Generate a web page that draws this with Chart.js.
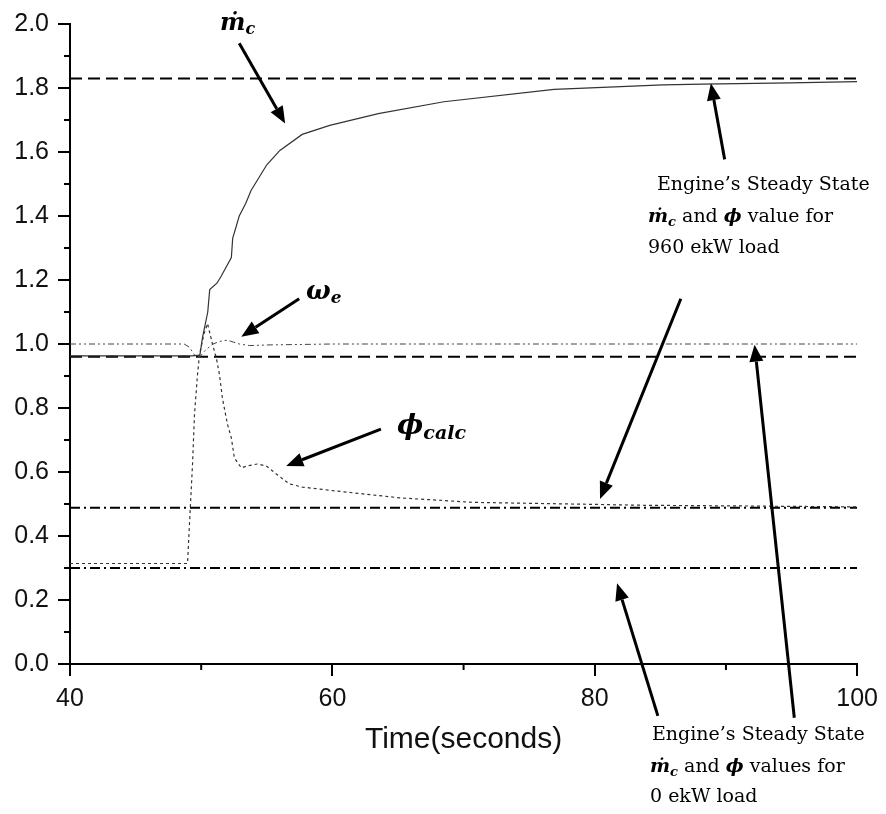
<!DOCTYPE html>
<html>
<head>
<meta charset="utf-8">
<script src="https://cdn.jsdelivr.net/npm/chart.js@4.4.0/dist/chart.umd.min.js"></script>
<style>
  html, body { margin: 0; padding: 0; background: #fff; }
  #wrap { width: 886px; height: 814px; }
</style>
</head>
<body>
<div id="wrap"><canvas id="myChart" width="886" height="814"></canvas></div>
<script>
// Compressor mass flow (m_c) response
const mcTime = [40, 49.3, 49.9, 50.1, 50.5, 50.65, 51.2, 51.5, 52.3, 52.4, 52.9, 53.4, 53.8, 55.0, 56.0, 57.7, 59.8, 63.5, 68.5, 76.9, 85.2, 88.2, 94.9, 100];
const mcValue = [0.963, 0.963, 0.965, 1.02, 1.10, 1.17, 1.19, 1.21, 1.27, 1.33, 1.40, 1.44, 1.48, 1.56, 1.605, 1.655, 1.683, 1.72, 1.757, 1.796, 1.81, 1.812, 1.816, 1.82];

// Engine speed (omega_e)
const omegaTime = [40, 48.7, 49.1, 49.5, 49.9, 50.3, 50.9, 51.4, 52.0, 52.9, 53.7, 55.0, 60, 100];
const omegaValue = [1.0, 1.0, 0.99, 0.965, 0.96, 0.98, 1.0, 1.008, 1.012, 1.0, 0.995, 0.997, 1.0, 1.0];

// Calculated equivalence ratio (phi_calc)
const phiTime = [40, 48.96, 49.11, 49.34, 49.49, 49.72, 49.87, 50.2, 50.48, 50.86, 51.16, 51.39, 51.62, 52.0, 52.3, 52.53, 53.06, 53.52, 54.28, 54.96, 55.72, 56.71, 57.7, 60.2, 65.2, 70.8, 79.6, 83.8, 90.7, 100];
const phiValue = [0.314, 0.314, 0.44, 0.625, 0.78, 0.905, 0.967, 1.03, 1.064, 1.0, 0.955, 0.905, 0.83, 0.75, 0.706, 0.644, 0.613, 0.619, 0.625, 0.619, 0.594, 0.563, 0.553, 0.541, 0.519, 0.505, 0.499, 0.496, 0.494, 0.491];

// Steady state levels (960 ekW and 0 ekW load)
const steadyTime = [40, 100];
const mcSteady960 = [1.83, 1.83];
const mcSteady0 = [0.96, 0.96];
const phiSteady960 = [0.488, 0.488];
const phiSteady0 = [0.30, 0.30];

const toPoints = (xs, ys) => xs.map((x, i) => ({ x: x, y: ys[i] }));

// arrows in data units: [fromX, fromY, toX, toY]
const arrows = [
  [52.9, 1.94, 56.4, 1.689],
  [57.47, 1.1415, 53.06, 1.023],
  [63.7, 0.734, 56.48, 0.619],
  [89.9, 1.577, 88.85, 1.815],
  [86.56, 1.1415, 80.4, 0.516],
  [84.81, -0.162, 81.7, 0.252],
  [95.21, -0.168, 92.18, 0.998],
];

const serif = '"DejaVu Serif"';
const bodyFont = "19px " + serif;
const mathFont = "bold italic 19px " + serif;
const subFont = "bold italic 13px " + serif;

function drawRuns(ctx, x, y, runs) {
  let cx = x;
  runs.forEach(function (r) {
    ctx.font = r.font;
    ctx.fillText(r.text, cx, y + (r.dy || 0));
    cx += ctx.measureText(r.text).width;
  });
}

function drawArrow(ctx, x1, y1, x2, y2) {
  const ang = Math.atan2(y2 - y1, x2 - x1);
  const head = 17, half = 7;
  const bx = x2 - head * Math.cos(ang);
  const by = y2 - head * Math.sin(ang);
  ctx.beginPath();
  ctx.moveTo(x1, y1);
  ctx.lineTo(bx, by);
  ctx.lineWidth = 3;
  ctx.stroke();
  ctx.beginPath();
  ctx.moveTo(x2, y2);
  ctx.lineTo(bx + half * Math.sin(ang), by - half * Math.cos(ang));
  ctx.lineTo(bx - half * Math.sin(ang), by + half * Math.cos(ang));
  ctx.closePath();
  ctx.fill();
}

const annotationPlugin = {
  id: "annotations",
  afterDraw(chart) {
    const ctx = chart.ctx;
    const sx = chart.scales.x, sy = chart.scales.y;
    ctx.save();
    ctx.fillStyle = "#000";
    ctx.strokeStyle = "#000";

    // minor tick marks
    ctx.lineWidth = 2;
    [50, 70, 90].forEach(function (v) {
      const px = sx.getPixelForValue(v);
      ctx.beginPath();
      ctx.moveTo(px, sy.bottom);
      ctx.lineTo(px, sy.bottom + 6);
      ctx.stroke();
    });
    for (let i = 1; i < 20; i += 2) {
      const py = sy.getPixelForValue(i / 10);
      ctx.beginPath();
      ctx.moveTo(sx.left, py);
      ctx.lineTo(sx.left - 6, py);
      ctx.stroke();
    }

    arrows.forEach(function (a) {
      drawArrow(ctx, sx.getPixelForValue(a[0]), sy.getPixelForValue(a[1]),
        sx.getPixelForValue(a[2]), sy.getPixelForValue(a[3]));
    });

    ctx.textBaseline = "alphabetic";
    // curve labels
    drawRuns(ctx, 220, 30, [
      { text: "\u1E41", font: "bold italic 24px " + serif },
      { text: "c", font: "bold italic 16px " + serif, dy: 4 },
    ]);
    drawRuns(ctx, 306, 299, [
      { text: "\u03C9", font: "bold italic 26px " + serif },
      { text: "e", font: "bold italic 17px " + serif, dy: 4 },
    ]);
    drawRuns(ctx, 397, 434, [
      { text: "\u03D5", font: "bold italic 28px " + serif },
      { text: "calc", font: "bold italic 19px " + serif, dy: 5 },
    ]);

    // steady state notes
    drawRuns(ctx, 657, 190, [{ text: "Engine\u2019s Steady State", font: bodyFont }]);
    drawRuns(ctx, 648, 222, [
      { text: "\u1E41", font: mathFont },
      { text: "c", font: subFont, dy: 4 },
      { text: " and ", font: bodyFont },
      { text: "\u03D5", font: mathFont },
      { text: " value for", font: bodyFont },
    ]);
    drawRuns(ctx, 648, 253, [{ text: "960 ekW load", font: bodyFont }]);

    drawRuns(ctx, 652, 740, [{ text: "Engine\u2019s Steady State", font: bodyFont }]);
    drawRuns(ctx, 650, 772, [
      { text: "\u1E41", font: mathFont },
      { text: "c", font: subFont, dy: 4 },
      { text: " and ", font: bodyFont },
      { text: "\u03D5", font: mathFont },
      { text: " values for", font: bodyFont },
    ]);
    drawRuns(ctx, 650, 802, [{ text: "0 ekW load", font: bodyFont }]);
    ctx.restore();
  },
};

const tickFont = { family: '"Liberation Sans", Arial', size: 25 };

new Chart(document.getElementById("myChart"), {
  type: "line",
  data: {
    datasets: [
      {
        label: "mc",
        data: toPoints(mcTime, mcValue),
        borderColor: "#333",
        borderWidth: 1.2,
      },
      {
        label: "omega_e",
        data: toPoints(omegaTime, omegaValue),
        borderColor: "#444",
        borderWidth: 1,
        borderDash: [6, 3, 2, 3, 2, 3],
      },
      {
        label: "phi_calc",
        data: toPoints(phiTime, phiValue),
        borderColor: "#333",
        borderWidth: 1.2,
        borderDash: [3, 3],
      },
      {
        label: "mc steady 960",
        data: toPoints(steadyTime, mcSteady960),
        borderColor: "#000",
        borderWidth: 2,
        borderDash: [12, 6],
      },
      {
        label: "mc steady 0",
        data: toPoints(steadyTime, mcSteady0),
        borderColor: "#000",
        borderWidth: 2,
        borderDash: [12, 6],
      },
      {
        label: "phi steady 960",
        data: toPoints(steadyTime, phiSteady960),
        borderColor: "#000",
        borderWidth: 2,
        borderDash: [10, 4, 2, 4],
      },
      {
        label: "phi steady 0",
        data: toPoints(steadyTime, phiSteady0),
        borderColor: "#000",
        borderWidth: 2,
        borderDash: [10, 4, 2, 4],
      },
    ],
  },
  options: {
    responsive: false,
    animation: false,
    events: [],
    layout: { padding: { top: 21, right: 26, left: 0, bottom: 0 } },
    elements: { point: { radius: 0 }, line: { tension: 0 } },
    plugins: { legend: { display: false }, tooltip: { enabled: false } },
    scales: {
      x: {
        type: "linear",
        min: 40,
        max: 100,
        afterFit: function (scale) { scale.height = 150; },
        border: { display: true, color: "#000", width: 2 },
        grid: {
          drawOnChartArea: false,
          drawTicks: true,
          tickLength: 12,
          lineWidth: 2,
          color: function (c) { return c.tick && c.tick.value % 20 === 0 ? "#000" : "rgba(0,0,0,0)"; },
        },
        ticks: {
          stepSize: 10,
          autoSkip: false,
          maxRotation: 0,
          padding: 8,
          color: "#111",
          font: tickFont,
          callback: function (v) { return v % 20 === 0 ? String(v) : ""; },
        },
        title: {
          display: true,
          text: "Time(seconds)",
          color: "#111",
          font: { family: '"Liberation Sans", Arial', size: 30 },
          padding: { top: 0, bottom: 56 },
        },
      },
      y: {
        min: 0,
        max: 2,
        afterFit: function (scale) { scale.width = 70; },
        border: { display: true, color: "#000", width: 2 },
        grid: {
          drawOnChartArea: false,
          drawTicks: true,
          tickLength: 12,
          lineWidth: 2,
          color: function (c) { return c.tick && Math.round(c.tick.value * 10) % 2 === 0 ? "#000" : "rgba(0,0,0,0)"; },
        },
        ticks: {
          stepSize: 0.1,
          autoSkip: false,
          padding: 9,
          color: "#111",
          font: tickFont,
          callback: function (v) { return Math.round(v * 10) % 2 === 0 ? v.toFixed(1) : ""; },
        },
      },
    },
  },
  plugins: [annotationPlugin],
});
</script>
</body>
</html>
